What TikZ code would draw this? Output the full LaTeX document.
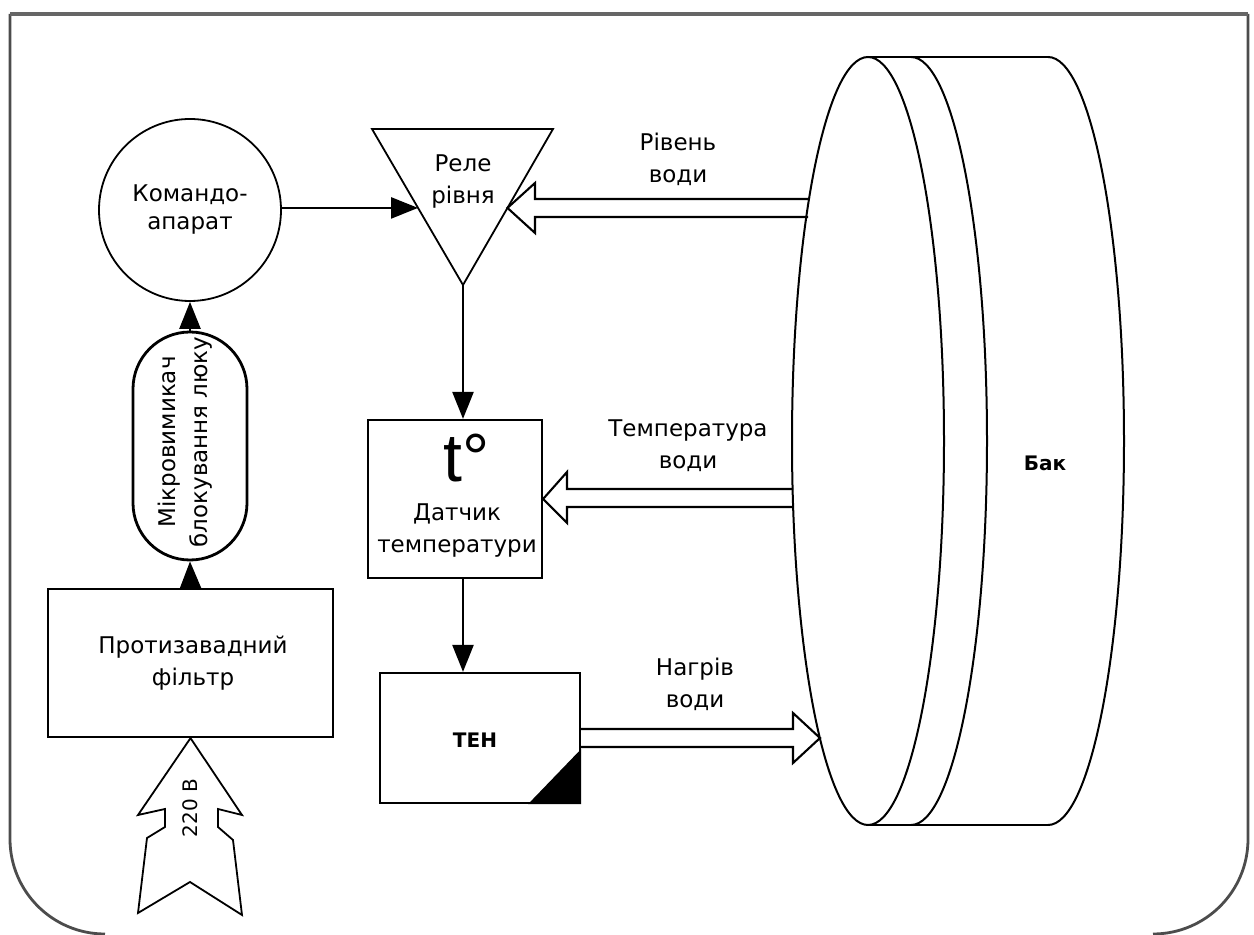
\documentclass[tikz,border=0pt]{standalone}
\usepackage{fontspec}
\setmainfont{DejaVu Sans}
\newfontfamily\arialfont{Liberation Sans}
\usetikzlibrary{arrows.meta,calc}
\begin{document}
\begin{tikzpicture}[x=1pt,y=1pt,
  line width=2pt,
  lbl/.style={align=center,font=\fontsize{23}{32}\selectfont,inner sep=0},
  boxnode/.style={draw,line width=2.2pt,inner sep=0},
  flow/.style={-{Triangle[length=27pt,width=21pt]},line width=2.4pt},
  bigarrow/.style={draw,line width=2.1pt,line join=miter},
  casing/.style={line width=2.8pt,draw=black!70}
]
\useasboundingbox (0,0) rectangle (1254,935);

% washing machine casing
\draw[casing] (10,921) -- (10,96) arc[start angle=180,end angle=270,radius=95];
\draw[casing] (1248,921) -- (1248,96) arc[start angle=0,end angle=-90,radius=95];
\draw[casing,line width=3.8pt,draw=black!60] (10,921) -- (1248,921);

% drum (tank)
\draw (868,878) -- (1048,878);
\draw (868,110) -- (1048,110);
\draw (868,494) ellipse[x radius=76,y radius=384];
\draw (911,878) arc[start angle=90,end angle=-90,x radius=76,y radius=384];
\draw (1048,878) arc[start angle=90,end angle=-90,x radius=76,y radius=384];
\node[font=\bfseries\fontsize{20}{24}\selectfont,inner sep=0] (tank) at (1045,472) {Бак};
\coordinate (lvlsrc) at (808,727);
\coordinate (tmpsrc) at (793,437);
\coordinate (heatdst) at (820,197);

% controller
\node[draw,circle,minimum size=182,inner sep=0,line width=1.8pt,
      align=center,font=\fontsize{23}{28}\selectfont] (cmd) at (190,725) {Командо-\\апарат};

% level relay
\coordinate (rTL) at (372,806);
\coordinate (rTR) at (553,806);
\coordinate (rB) at (463,650);
\draw[line width=1.8pt] (rTL) -- (rTR) -- (rB) -- cycle;
\node[lbl] (relay) at (463,753) {Реле\\рівня};
\coordinate (relayin) at ($(rTL)!0.506!(rB)$);
\coordinate (relayout) at ($(rTR)!0.506!(rB)$);

% temperature sensor
\node[boxnode,minimum width=174,minimum height=158] (tbox) at (455,436) {};
\node[anchor=base,inner sep=0,font=\arialfont\fontsize{68}{68}\selectfont] (tsym) at (467,453) {t°};
\node[lbl] (tlabel) at (457,404) {Датчик\\температури};

% heater
\node[boxnode,minimum width=200,minimum height=130] (teh) at (480,197) {};
\node[font=\bfseries\fontsize{20}{24}\selectfont,inner sep=0] (tehlabel) at (475,195) {ТЕН};
\fill ($(teh.south east)+(0,55)$) -- (teh.south east) -- ($(teh.south east)+(-53,0)$) -- cycle;

% noise filter
\node[boxnode,minimum width=285,minimum height=148] (filt) at (190.5,272) {};
\node[lbl] (filtlabel) at (193,272) {Протизавадний\\фільтр};

% door lock switch
\node[draw,rectangle,rounded corners=56.9pt,minimum width=114,minimum height=228,
      line width=2.8pt,inner sep=0] (sw) at (190,489) {};
\node[lbl,rotate=90] (swlabel) at (185,493) {Мікровимикач\\блокування люку};

% mains input
\coordinate (mains) at (filt.south);
\draw[line width=1.8pt,line join=miter] (mains) -- (138,120) -- (165,126) -- (165,108) -- (147,97)
  -- (138,22) -- (190,53) -- (242,20) -- (233,95) -- (218,108) -- (218,126) -- (242,120) -- cycle;
\node[rotate=90,font=\fontsize{20}{24}\selectfont,inner sep=0] (mainslabel) at (190,127) {220 В};

% control connections
\draw[flow] (cmd.east |- relayin) -- (relayin);
\draw[flow] (rB) -- (rB |- tbox.north);
\draw[flow] (rB |- tbox.south) -- (rB |- teh.north);
\draw[flow] (sw.north) -- (cmd.south);
\draw[flow] (filt.north) -- (sw.south);

% signals from / to the drum
\draw[bigarrow] (lvlsrc |- 0,736) -- (535,736) -- (535,752) -- (relayout) -- (535,702) -- (535,718) -- (lvlsrc |- 0,718);
\node[lbl] (lvllabel) at (678,776) {Рівень\\води};

\draw[bigarrow] (tmpsrc |- 0,446) -- (567,446) -- (567,463) -- (tbox.east) -- (567,412) -- (567,428) -- (tmpsrc |- 0,428);
\node[lbl] (tmplabel) at (688,489) {Температура\\води};

\draw[bigarrow] (teh.east |- 0,206) -- (793,206) -- (793,222) -- (heatdst) -- (793,172) -- (793,188) -- (teh.east |- 0,188);
\node[lbl] (heatlabel) at (695,251) {Нагрів\\води};
\end{tikzpicture}
\end{document}
